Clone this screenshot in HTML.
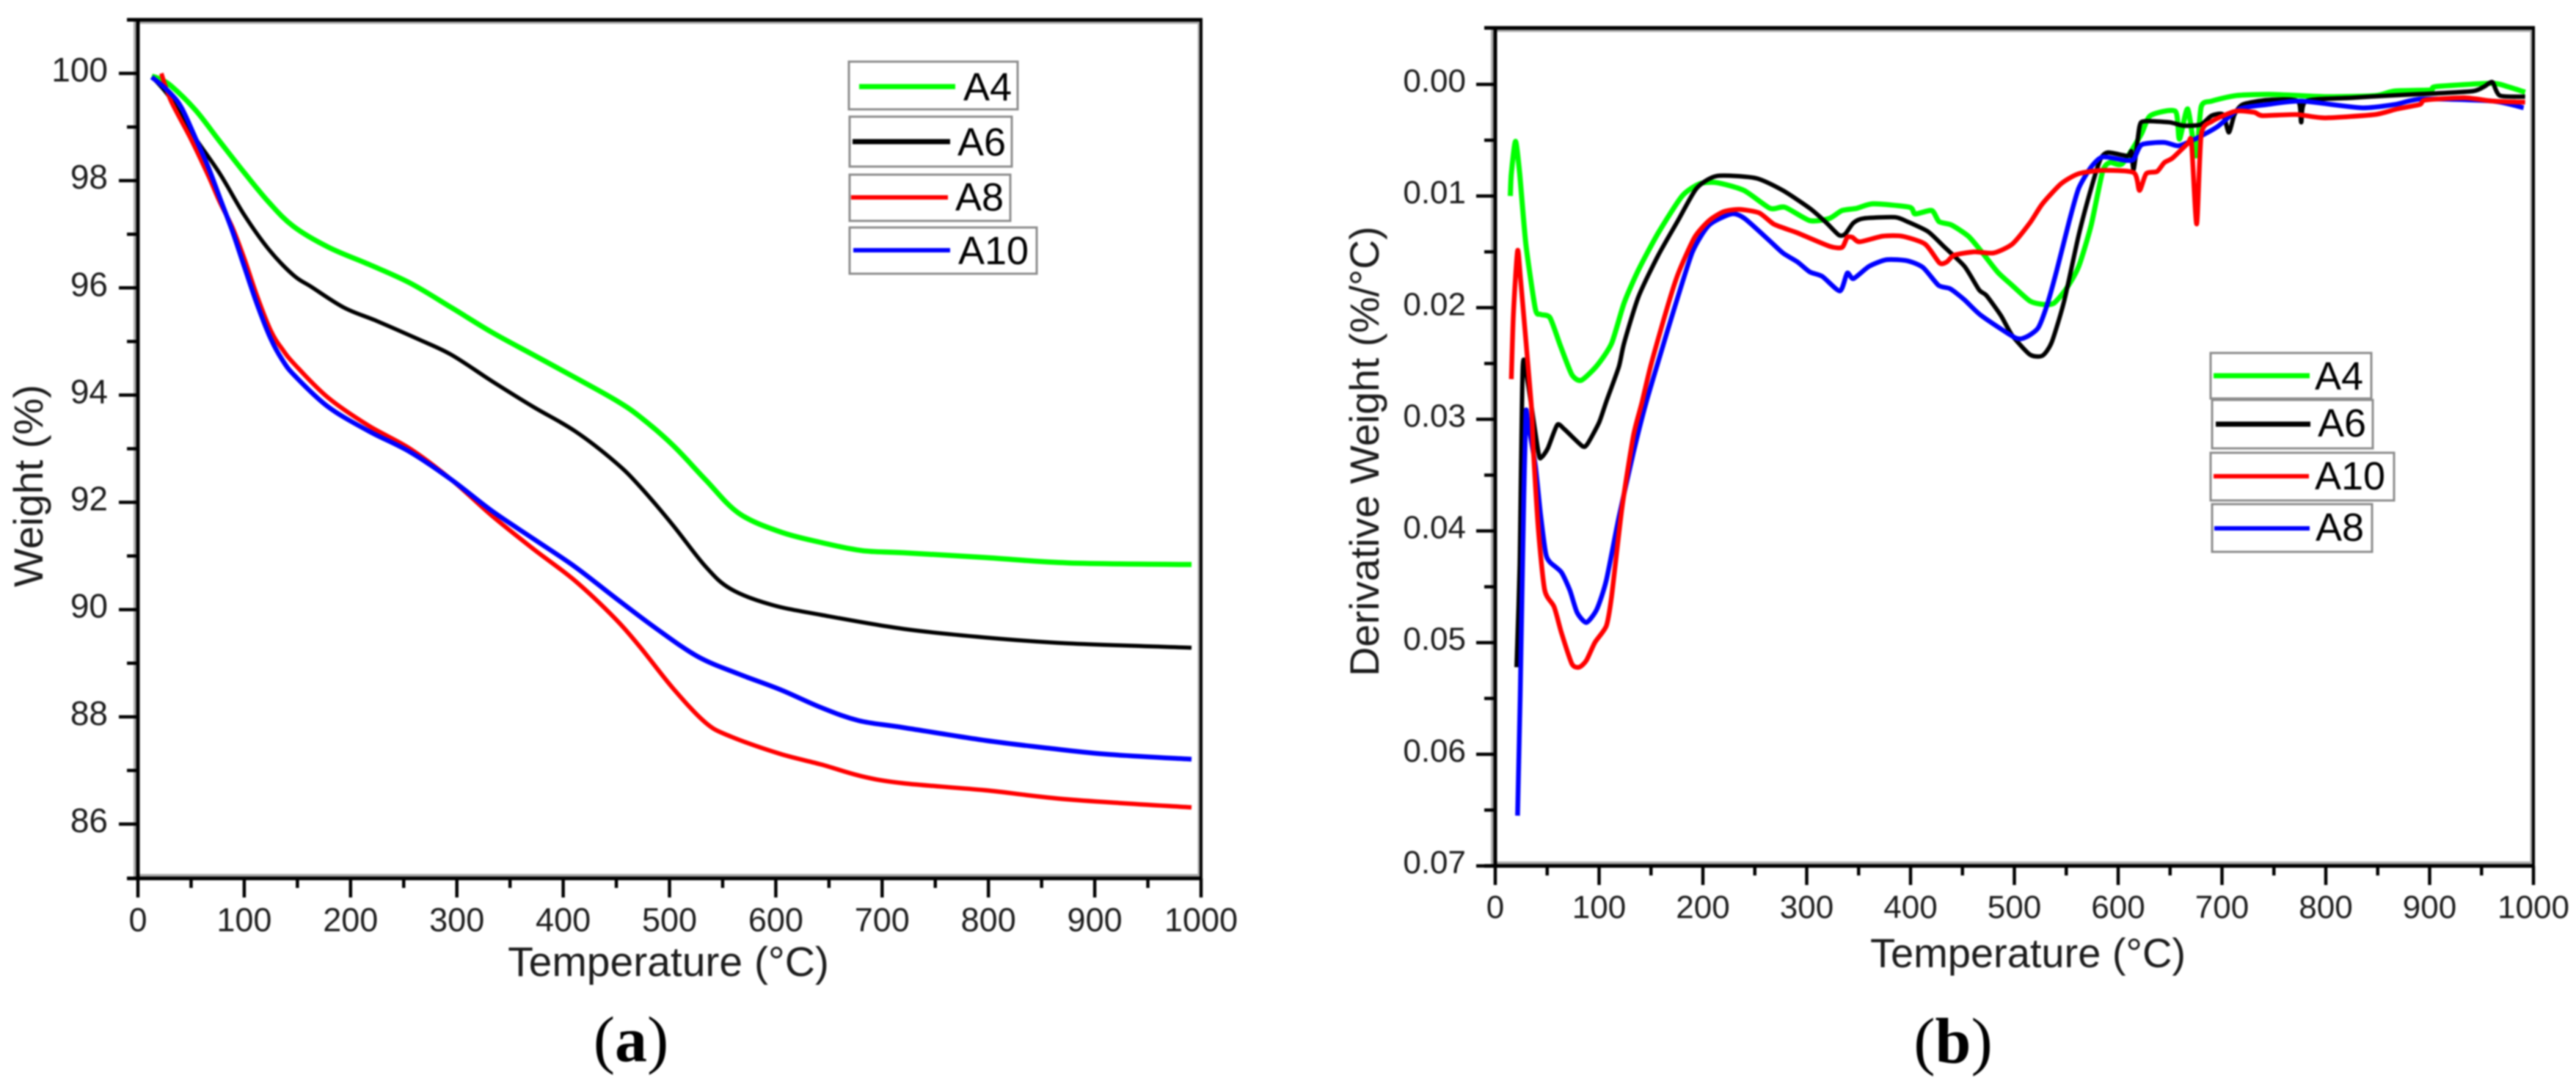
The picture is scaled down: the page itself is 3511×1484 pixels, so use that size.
<!DOCTYPE html>
<html lang="en">
<head>
<meta charset="utf-8">
<title>Thermogravimetric curves (a) and derivative curves (b)</title>
<style>
html,body{margin:0;padding:0;background:#fff;}
svg{display:block;filter:blur(1px);}
text{font-family:"Liberation Sans",sans-serif;fill:#1c1c1c;}
.lg{fill:#000;font-size:54px;}
.box{fill:#fff;stroke:#8c8c8c;stroke-width:3;}
.cap{font-family:"Liberation Serif",serif;font-size:88px;fill:#000;}
</style>
</head>
<body>
<svg id="figure" xmlns="http://www.w3.org/2000/svg" width="3511" height="1484" viewBox="0 0 3511 1484">
  <g id="panel-a">
    <text transform="translate(58,662) rotate(-90)" text-anchor="middle" font-size="56">Weight (%)</text>
    <text x="911" y="1330" text-anchor="middle" font-size="57">Temperature (°C)</text>
    <text class="cap" x="860" y="1446" text-anchor="middle">(<tspan font-weight="bold">a</tspan>)</text>
  </g>
  <g id="panel-b">
    <text transform="translate(1879,615) rotate(-90)" text-anchor="middle" font-size="55.5">Derivative Weight (%/°C)</text>
    <text x="2764" y="1318" text-anchor="middle" font-size="56">Temperature (°C)</text>
    <text class="cap" x="2662" y="1448" text-anchor="middle">(<tspan font-weight="bold">b</tspan>)</text>
  </g>
  <g id="legend-a">
    <g><rect class="box" x="1157" y="84" width="230" height="65"/><line x1="1171" x2="1302" y1="118" y2="118" stroke="#00ff00" stroke-width="7"/><text class="lg" x="1313" y="137">A4</text></g>
    <g><rect class="box" x="1158" y="159" width="221" height="68"/><line x1="1162" x2="1295" y1="193" y2="193" stroke="#000" stroke-width="7"/><text class="lg" x="1305" y="212">A6</text></g>
    <g><rect class="box" x="1158" y="238" width="219" height="63"/><line x1="1160" x2="1292" y1="269" y2="269" stroke="#ff0000" stroke-width="6"/><text class="lg" x="1302" y="287">A8</text></g>
    <g><rect class="box" x="1158" y="310" width="255" height="63"/><line x1="1163" x2="1295" y1="341" y2="341" stroke="#0000ff" stroke-width="6"/><text class="lg" x="1306" y="360">A10</text></g>
  </g>
  <g id="legend-b">
    <g><rect class="box" x="3013" y="481" width="219" height="62"/><line x1="3017" x2="3148" y1="512" y2="512" stroke="#00ff00" stroke-width="7"/><text class="lg" x="3155" y="531">A4</text></g>
    <g><rect class="box" x="3015" y="545" width="219" height="66"/><line x1="3020" x2="3149" y1="578" y2="578" stroke="#000" stroke-width="7"/><text class="lg" x="3159" y="595">A6</text></g>
    <g><rect class="box" x="3013" y="617" width="250" height="65"/><line x1="3017" x2="3147" y1="649" y2="649" stroke="#ff0000" stroke-width="6"/><text class="lg" x="3155" y="667">A10</text></g>
    <g><rect class="box" x="3015" y="687" width="218" height="65"/><line x1="3018" x2="3148" y1="720" y2="720" stroke="#0000ff" stroke-width="6"/><text class="lg" x="3156" y="737">A8</text></g>
  </g>
</svg>
<script>
// Shared axis values
const xMajorTicks = [0,100,200,300,400,500,600,700,800,900,1000];
const xMinorTicks = [50,150,250,350,450,550,650,750,850,950];
const xTickLabels = ["0","100","200","300","400","500","600","700","800","900","1000"];

// Panel (a) axis values
const yMajorTicksA = [86,88,90,92,94,96,98,100];
const yMinorTicksA = [87,89,91,93,95,97,99];
const yTickLabelsA = ["86","88","90","92","94","96","98","100"];

// Panel (b) axis values
const yMajorTicksB = [0,0.01,0.02,0.03,0.04,0.05,0.06,0.07];
const yMinorTicksB = [0.005,0.015,0.025,0.035,0.045,0.055,0.065];
const yTickLabelsB = ["0.00","0.01","0.02","0.03","0.04","0.05","0.06","0.07"];

// Panel (a) series
const tempA4 = [13,20,31,54,77,100,123,146,179,217,256,295,333,372,411,449,472,503,534,565,604,643,681,720,797,875,991];
const weightA4 = [99.95,99.9,99.77,99.32,98.73,98.15,97.6,97.15,96.76,96.44,96.09,95.63,95.17,94.75,94.33,93.91,93.6,93.07,92.42,91.8,91.45,91.25,91.1,91.06,90.97,90.87,90.84];
const tempA6 = [15,30,52,77,100,123,146,163,194,225,264,295,333,372,411,449,472,503,534,558,596,643,720,797,875,991];
const weightA6 = [99.9,99.55,98.85,98.13,97.36,96.72,96.24,96.02,95.63,95.38,95.04,94.75,94.26,93.78,93.33,92.75,92.3,91.58,90.8,90.38,90.09,89.9,89.64,89.48,89.37,89.29];
const tempA8 = [22,31,50,66,77,89,100,112,125,136,148,179,217,256,295,333,372,411,449,472,503,534,558,604,643,681,720,797,875,991];
const weightA8 = [100,99.49,98.77,98.1,97.6,97.12,96.55,95.85,95.2,94.85,94.56,93.95,93.43,93,92.42,91.75,91.13,90.54,89.83,89.31,88.54,87.89,87.63,87.31,87.11,86.89,86.76,86.63,86.46,86.31];
const tempA10 = [13,20,31,41,54,66,77,89,100,112,125,136,148,179,217,256,295,333,372,411,449,488,527,565,604,643,678,720,797,859,913,991];
const weightA10 = [99.93,99.82,99.62,99.36,98.8,98.26,97.68,97.05,96.4,95.7,95.05,94.65,94.35,93.78,93.33,92.94,92.42,91.84,91.32,90.8,90.22,89.64,89.12,88.8,88.51,88.17,87.93,87.8,87.56,87.41,87.3,87.21];

// Panel (b) series
const tempB4 = [14.5,15.5,19.5,23.5,29.5,38.6,43.6,52.7,62.7,73.8,82.8,97.9,112,124,138,157,180,197,213.5,239.6,264.7,279,303,322,334,348,364,399,404.4,420.5,427.5,439.6,455.7,467.7,483.8,497.9,515,527,538,550,562,574,585,592,604,622,631,655,659,667,675,680,690,714,749,799,848,866,901,906,960,975,992];
const derivB4 = [0.01,0.008,0.0051,0.008,0.0143,0.0201,0.0206,0.0209,0.0234,0.026,0.0265,0.0252,0.0232,0.0196,0.0166,0.0133,0.01,0.0089,0.0088,0.0095,0.0111,0.011,0.0122,0.012,0.0113,0.0111,0.0107,0.011,0.0116,0.0113,0.0123,0.0126,0.0136,0.0149,0.0168,0.018,0.0194,0.0197,0.0196,0.0183,0.0163,0.0126,0.0078,0.007,0.0071,0.0045,0.0028,0.0024,0.0049,0.0022,0.0064,0.002,0.0015,0.001,0.0009,0.0011,0.001,0.0006,0.0005,0.0002,-0.0001,0.0002,0.0007];
const tempB6 = [20.5,23.5,26.5,31.5,41.6,44.6,50.6,59.7,66.7,83.8,88.8,99.9,107,119,124,138,157,176,194,213.5,251,277,303,319,331,337,345,355,385,397,417,433,452,466,473,487,498,515,527,536,548,562,574,583,590,609,612.7,615,620.5,625.4,649.6,663,679.6,690,701,706.6,712,720,744,773,776.3,781,825.6,861,906.7,942,952.6,960.4,967.6,992];
const derivB6 = [0.0522,0.043,0.0253,0.0268,0.033,0.0334,0.0326,0.0305,0.0309,0.0324,0.0322,0.0303,0.0284,0.0253,0.0232,0.019,0.0153,0.0122,0.0093,0.0082,0.0084,0.0095,0.0111,0.0124,0.0135,0.0134,0.0124,0.012,0.0119,0.0123,0.0132,0.0146,0.0163,0.0184,0.0189,0.0207,0.0225,0.0242,0.0243,0.0231,0.0194,0.0135,0.0093,0.0067,0.0061,0.0064,0.006,0.0076,0.0038,0.0033,0.0034,0.0037,0.0036,0.0028,0.0027,0.0043,0.0027,0.0018,0.0014,0.0015,0.0034,0.0015,0.0012,0.001,0.0008,0.0006,0.0002,-0.0002,0.001,0.0011];
const tempB8 = [21.5,24,27.5,29.5,31.5,38.6,43.6,48.6,52.7,63.7,71.8,78.8,87.8,97.9,107,119,133,145,159,173,190,206,227.5,240,263,277,291,303,315,332,339,345,360,377,397,412,427,438,452,468,501,512,523,531,541,553,562,574,585,607,615,622.6,644.5,658,674,695.4,717,744,776.7,834,866.5,893,960.8,990.5];
const derivB8 = [0.0655,0.0547,0.037,0.0294,0.0303,0.0341,0.0385,0.042,0.0428,0.0437,0.0453,0.0473,0.0482,0.047,0.0444,0.0388,0.033,0.0286,0.0242,0.0199,0.015,0.0126,0.0116,0.012,0.0139,0.0151,0.0159,0.0168,0.0172,0.0185,0.0169,0.0174,0.0163,0.0157,0.0158,0.0164,0.018,0.0183,0.0193,0.0207,0.0227,0.0226,0.0218,0.0199,0.0166,0.0122,0.0093,0.0074,0.0065,0.0068,0.0067,0.0054,0.0052,0.0055,0.0049,0.0038,0.0022,0.0018,0.0015,0.0021,0.0018,0.0013,0.0015,0.0021];
const tempB10 = [15.5,17.5,21.5,24.5,34.6,36.6,41.6,47.6,56.7,63.7,73.8,80.8,87.8,95.9,107,112,122,133,141,150,164,176,192,206,220,235,254,268,282,291,322,334,339,344,351,373,392,414,428,435,442,461,480,498,515,527,545,562,585,615,620.5,627,637.5,644.5,652.4,667,670.6,675.6,680,690.5,713,731,739,772,798.6,847,868.6,890.5,896,933.6,960.8,992];
const derivB10 = [0.0264,0.0205,0.0149,0.0176,0.0286,0.0326,0.04,0.0453,0.0468,0.0491,0.0519,0.0522,0.0516,0.05,0.0485,0.0459,0.038,0.0315,0.0286,0.0251,0.0205,0.017,0.0137,0.0122,0.0114,0.0112,0.0115,0.0125,0.013,0.0133,0.0145,0.0146,0.0137,0.0137,0.0141,0.0136,0.0136,0.0143,0.016,0.0159,0.0153,0.015,0.0151,0.0143,0.0124,0.0107,0.0089,0.008,0.0077,0.0079,0.0095,0.008,0.0078,0.007,0.0066,0.0053,0.0052,0.0125,0.0045,0.0033,0.0024,0.0025,0.0028,0.0027,0.003,0.0027,0.0022,0.0018,0.0014,0.0012,0.0015,0.0016];

// Axis functions
function xScaleA(t){ return 188 + t * 1.449; }
function yScaleA(v){ return 100 + (100 - v) * 73.07; }
function xScaleB(t){ return 2038 + t * 1.415; }
function yScaleB(v){ return 115 + v * 15214; }

const NS = 'http://www.w3.org/2000/svg';

function addLine(parent, x1, y1, x2, y2, color, width, name) {
  const el = document.createElementNS(NS, 'line');
  el.setAttribute('x1', x1);
  el.setAttribute('y1', y1);
  el.setAttribute('x2', x2);
  el.setAttribute('y2', y2);
  el.setAttribute('stroke', color);
  el.setAttribute('stroke-width', width);
  
  
  parent.appendChild(el);
}

function addLabel(parent, x, y, anchor, size, str, name) {
  const el = document.createElementNS(NS, 'text');
  el.setAttribute('x', x);
  el.setAttribute('y', y);
  el.setAttribute('text-anchor', anchor);
  el.setAttribute('font-size', size);
  el.textContent = str;
  
  
  parent.appendChild(el);
}

function drawFrame(parent, prefix, sx, sy, yTop, yBottom, xMaj, xMin, yMaj, yMin, yLabels, lab) {
  const L = sx(0), R = sx(1000);
  addLine(parent, L - 4, yTop, L - 4, yBottom, '#a8a8a8', 4, prefix + '-left-axis-shadow');
  addLine(parent, L, yBottom - 4, R, yBottom - 4, '#a8a8a8', 4, prefix + '-bottom-axis-shadow');
  addLine(parent, L, yTop + 4, R, yTop + 4, '#a8a8a8', 3, prefix + '-top-axis-shadow');
  addLine(parent, R - 3, yTop, R - 3, yBottom, '#a8a8a8', 3, prefix + '-right-axis-shadow');
  addLine(parent, L, yTop - 2, L, yBottom + 2, '#000', 5, prefix + '-left-axis');
  addLine(parent, L - 15, yBottom, R + 2, yBottom, '#000', 5, prefix + '-bottom-axis');
  addLine(parent, L - 15, yTop, R + 2, yTop, '#000', 5, prefix + '-top-axis');
  addLine(parent, R, yTop, R, yBottom, '#000', 4, prefix + '-right-axis');
  xMaj.forEach(function (t, i) {
    addLine(parent, sx(t), yBottom, sx(t), yBottom + 26, '#000', 4.5, prefix + '-x-major-tick');
    addLabel(parent, sx(t), lab.xBase, 'middle', lab.xSize, xTickLabels[i], prefix + '-x-tick-label');
  });
  xMin.forEach(function (t) {
    addLine(parent, sx(t), yBottom, sx(t), yBottom + 13, '#000', 4.5, prefix + '-x-minor-tick');
  });
  yMaj.forEach(function (v, i) {
    addLine(parent, L, sy(v), L - 26, sy(v), '#000', 4.5, prefix + '-y-major-tick');
    addLabel(parent, lab.yEnd, sy(v) + lab.yOff, 'end', lab.ySize, yLabels[i], prefix + '-y-tick-label');
  });
  yMin.forEach(function (v) {
    addLine(parent, L, sy(v), L - 15, sy(v), '#000', 4.5, prefix + '-y-minor-tick');
  });
}

function splinePath(pts, k) {
  let d = 'M' + pts[0][0].toFixed(1) + ' ' + pts[0][1].toFixed(1);
  for (let i = 0; i < pts.length - 1; i++) {
    const p0 = pts[Math.max(0, i - 1)], p1 = pts[i], p2 = pts[i + 1], p3 = pts[Math.min(pts.length - 1, i + 2)];
    const c1x = p1[0] + (p2[0] - p0[0]) * k, c1y = p1[1] + (p2[1] - p0[1]) * k;
    const c2x = p2[0] - (p3[0] - p1[0]) * k, c2y = p2[1] - (p3[1] - p1[1]) * k;
    d += 'C' + c1x.toFixed(1) + ' ' + c1y.toFixed(1) + ' ' + c2x.toFixed(1) + ' ' + c2y.toFixed(1) + ' ' + p2[0].toFixed(1) + ' ' + p2[1].toFixed(1);
  }
  return d;
}

function drawSeries(parent, xs, ys, sx, sy, color, width, tension, name) {
  const pts = xs.map(function (t, i) { return [sx(t), sy(ys[i])]; });
  const el = document.createElementNS(NS, 'path');
  el.setAttribute('d', splinePath(pts, tension));
  el.setAttribute('fill', 'none');
  el.setAttribute('stroke', color);
  el.setAttribute('stroke-width', width);
  el.setAttribute('stroke-linejoin', 'round');
  
  
  parent.appendChild(el);
}

const panelA = document.getElementById('panel-a');
const panelB = document.getElementById('panel-b');

drawFrame(panelA, 'panel-a', xScaleA, yScaleA, 27, 1197, xMajorTicks, xMinorTicks, yMajorTicksA, yMinorTicksA, yTickLabelsA,
  { xBase: 1269, xSize: 45, yEnd: 147, yOff: 11, ySize: 46 });
drawFrame(panelB, 'panel-b', xScaleB, yScaleB, 38, 1180, xMajorTicks, xMinorTicks, yMajorTicksB, yMinorTicksB, yTickLabelsB,
  { xBase: 1251, xSize: 44, yEnd: 1998, yOff: 10, ySize: 44 });

drawSeries(panelA, tempA4, weightA4, xScaleA, yScaleA, '#00ff00', 7, 1/6, 'panel-a-series-a4');
drawSeries(panelA, tempA6, weightA6, xScaleA, yScaleA, '#000000', 5.5, 1/6, 'panel-a-series-a6');
drawSeries(panelA, tempA8, weightA8, xScaleA, yScaleA, '#ff0000', 6, 1/6, 'panel-a-series-a8');
drawSeries(panelA, tempA10, weightA10, xScaleA, yScaleA, '#0000ff', 6.5, 1/6, 'panel-a-series-a10');

drawSeries(panelB, tempB4, derivB4, xScaleB, yScaleB, '#00ff00', 7, 1/9, 'panel-b-series-a4');
drawSeries(panelB, tempB6, derivB6, xScaleB, yScaleB, '#000000', 6, 1/9, 'panel-b-series-a6');
drawSeries(panelB, tempB8, derivB8, xScaleB, yScaleB, '#0000ff', 6.5, 1/9, 'panel-b-series-a8');
drawSeries(panelB, tempB10, derivB10, xScaleB, yScaleB, '#ff0000', 6.5, 1/9, 'panel-b-series-a10');

// Legends sit on top of the plot area
const svgRoot = document.getElementById('figure');
svgRoot.appendChild(document.getElementById('legend-a'));
svgRoot.appendChild(document.getElementById('legend-b'));
</script>
</body>
</html>
